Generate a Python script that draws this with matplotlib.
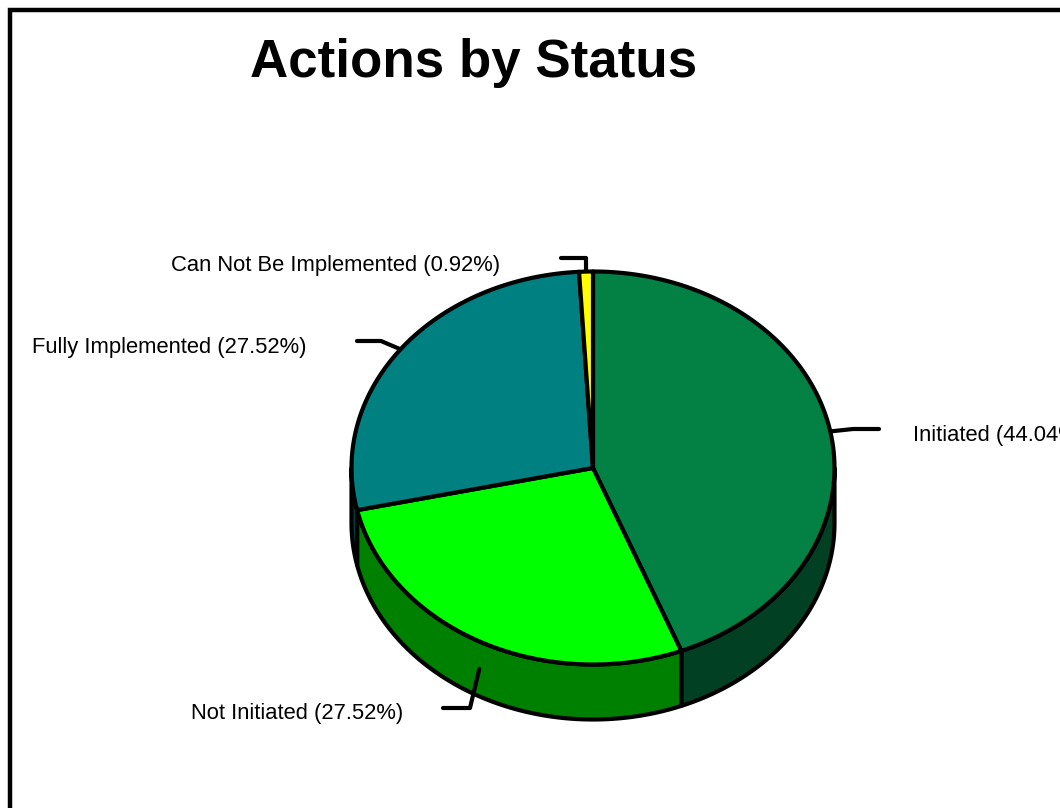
import numpy as np
import matplotlib
matplotlib.use("Agg")
import matplotlib.pyplot as plt
from matplotlib.patches import Polygon, Rectangle

categories = ["Initiated", "Not Initiated", "Fully Implemented", "Can Not Be Implemented"]
values = [44.04, 27.52, 27.52, 0.92]
top_colors = ["#038043", "#00FF00", "#008080", "#FFFF00"]
side_colors = ["#014023", "#008000", "#004040", "#808000"]

W, H = 1060, 808
CX, CY, RX, RY, DEPTH = 593, 468, 241.5, 196.5, 55

plt.rcParams["font.family"] = ["Liberation Sans", "DejaVu Sans"]
fig = plt.figure(figsize=(W / 100, H / 100), dpi=100, facecolor="white")
ax = fig.add_axes([0, 0, 1, 1])
ax.set_xlim(0, W)
ax.set_ylim(H, 0)
ax.axis("off")

ax.add_patch(Rectangle((9.5, 10), W + 50, H + 50, fc="white", ec="black", lw=3.2, zorder=0))
ax.text(474, 58, "Actions by Status", fontsize=38.1, fontweight="bold", ha="center", va="center_baseline")

def pt(frac):
    a = 2 * np.pi * frac
    return CX + RX * np.sin(a), CY - RY * np.cos(a)

fracs = np.array(values) / sum(values)
edges = np.concatenate([[0], np.cumsum(fracs)])
LW = 3.0

# Sides: only the part of each slice on the front half of the ellipse shows
for i in range(len(values)):
    lo, hi = max(edges[i], 0.25), min(edges[i + 1], 0.75)
    if hi <= lo:
        continue
    t = np.linspace(lo, hi, 120)
    x, y = pt(t)
    verts = np.r_[np.c_[x, y], np.c_[x[::-1], y[::-1] + DEPTH]]
    ax.add_patch(Polygon(verts, closed=True, fc=side_colors[i], ec="black", lw=LW, joinstyle="round", zorder=2))

# Tops
for i in range(len(values)):
    t = np.linspace(edges[i], edges[i + 1], 240)
    x, y = pt(t)
    verts = np.r_[[[CX, CY]], np.c_[x, y]]
    ax.add_patch(Polygon(verts, closed=True, fc=top_colors[i], ec="black", lw=LW, joinstyle="round", zorder=3))

# Leader lines and labels
def leader(frac, elbow, end, dy=0.0):
    x0, y0 = pt(frac)
    ax.plot([x0, elbow[0], end[0]], [y0 + dy, elbow[1], end[1]], color="black", lw=LW,
            solid_joinstyle="round", solid_capstyle="round", zorder=1 if dy == 0 else 4)

mid = (edges[:-1] + edges[1:]) / 2
leader(mid[0], (853, 429), (879, 429))
leader(mid[1], (470, 708), (443, 708), dy=DEPTH / 2)
leader(mid[2], (381, 341), (357, 341))
leader(mid[3], (586, 258), (561, 258))

labels = [f"{c} ({v:.2f}%)" for c, v in zip(categories, values)]
FS = 15.85
ax.text(913, 433, labels[0], fontsize=FS, ha="left", va="center_baseline")
ax.text(403, 711, labels[1], fontsize=FS, ha="right", va="center_baseline")
ax.text(306, 345, labels[2], fontsize=FS, ha="right", va="center_baseline")
ax.text(500, 263, labels[3], fontsize=FS, ha="right", va="center_baseline")

fig.savefig("out.png", dpi=100)
